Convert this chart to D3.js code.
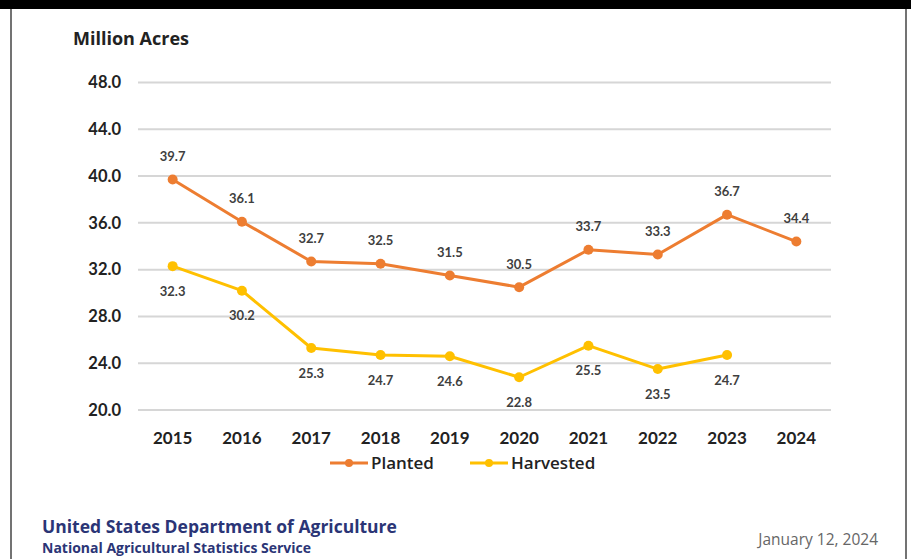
<!DOCTYPE html>
<html lang="en">
<head>
<meta charset="UTF-8">
<title>Million Acres</title>
<script src="https://d3js.org/d3.v7.min.js"></script>
<style>
    body { margin: 0; background: #fff; }
    svg { display: block; font-family: Lato, "Open Sans", sans-serif; }
    .wide { font-family: "Open Sans", sans-serif; }
</style>
</head>
<body>
<svg id="chart" width="911" height="559"></svg>
<script>
    const years = ["2015", "2016", "2017", "2018", "2019", "2020", "2021", "2022", "2023", "2024"];
    const planted = [39.7, 36.1, 32.7, 32.5, 31.5, 30.5, 33.7, 33.3, 36.7, 34.4];
    const harvested = [32.3, 30.2, 25.3, 24.7, 24.6, 22.8, 25.5, 23.5, 24.7, null];
    const yTicks = [20, 24, 28, 32, 36, 40, 44, 48];

    const svg = d3.select("#chart");
    const width = +svg.attr("width");
    const height = +svg.attr("height");

    // frame: black bar on top, thin side borders
    svg.append("rect").attr("x", 0).attr("y", 0).attr("width", width).attr("height", 9).attr("fill", "#000");
    svg.append("line").attr("x1", 11).attr("x2", 11).attr("y1", 9).attr("y2", height)
        .attr("stroke", "#444").attr("stroke-width", 1.5);
    svg.append("line").attr("x1", 906).attr("x2", 906).attr("y1", 9).attr("y2", height)
        .attr("stroke", "#444").attr("stroke-width", 1.5);

    const x = d3.scaleBand().domain(years).range([138, 831]);
    const y = d3.scaleLinear().domain([20, 48]).range([410, 82.5]);
    const cx = d => x(d) + x.bandwidth() / 2;

    // gridlines
    svg.append("g").selectAll("line")
        .data(yTicks)
        .enter().append("line")
        .attr("x1", 138).attr("x2", 831)
        .attr("y1", d => y(d)).attr("y2", d => y(d))
        .attr("stroke", "#d6d6d6").attr("stroke-width", 2);

    // y axis labels
    svg.append("g").selectAll("text")
        .data(yTicks)
        .enter().append("text")
        .attr("x", 121).attr("y", d => y(d))
        .attr("dy", "0.35em")
        .attr("text-anchor", "end")
        .attr("font-size", 16.5).attr("font-weight", "bold").attr("fill", "#222")
        .text(d => d.toFixed(1));

    // x axis labels
    svg.append("g").selectAll("text")
        .data(years)
        .enter().append("text")
        .attr("x", d => cx(d)).attr("y", 438)
        .attr("dy", "0.35em")
        .attr("text-anchor", "middle")
        .attr("font-size", 17).attr("font-weight", "bold").attr("fill", "#222")
        .text(d => d);

    svg.append("text")
        .attr("class", "wide")
        .attr("x", 73).attr("y", 45)
        .attr("font-size", 18).attr("font-weight", "bold").attr("fill", "#222")
        .text("Million Acres");

    const series = [
        { name: "Planted", values: planted, color: "#ED7D31", off: -23 },
        { name: "Harvested", values: harvested, color: "#FFC000", off: 25 }
    ];

    const line = d3.line()
        .defined(d => d.v !== null)
        .x(d => cx(d.year))
        .y(d => y(d.v));

    series.forEach(s => {
        const pts = years.map((yr, i) => ({ year: yr, v: s.values[i] }));
        const valid = pts.filter(d => d.v !== null);
        svg.append("path")
            .datum(pts)
            .attr("d", line)
            .attr("fill", "none")
            .attr("stroke", s.color)
            .attr("stroke-width", 3)
            .attr("stroke-linejoin", "round");
        svg.append("g").selectAll("circle")
            .data(valid)
            .enter().append("circle")
            .attr("cx", d => cx(d.year)).attr("cy", d => y(d.v))
            .attr("r", 5).attr("fill", s.color);
        svg.append("g").selectAll("text")
            .data(valid)
            .enter().append("text")
            .attr("x", d => cx(d.year)).attr("y", d => y(d.v) + s.off)
            .attr("dy", "0.35em")
            .attr("text-anchor", "middle")
            .attr("font-size", 13).attr("font-weight", "bold").attr("fill", "#3f3f3f")
            .text(d => d.v.toFixed(1));
    });

    // legend
    const legend = svg.append("g").attr("transform", "translate(0,463)");
    const legendItems = [
        { name: "Planted", color: "#ED7D31", x: 330 },
        { name: "Harvested", color: "#FFC000", x: 470 }
    ];
    legendItems.forEach(d => {
        legend.append("line")
            .attr("x1", d.x).attr("x2", d.x + 38)
            .attr("y1", 0).attr("y2", 0)
            .attr("stroke", d.color).attr("stroke-width", 3);
        legend.append("circle")
            .attr("cx", d.x + 19).attr("cy", 0).attr("r", 4).attr("fill", d.color);
        legend.append("text")
            .attr("class", "wide")
            .attr("x", d.x + 41).attr("y", 0).attr("dy", "0.35em")
            .attr("font-size", 17).attr("font-weight", 600).attr("fill", "#222")
            .text(d.name);
    });

    // footer
    svg.append("text")
        .attr("class", "wide")
        .attr("x", 42).attr("y", 533)
        .attr("font-size", 17.5).attr("font-weight", "bold").attr("fill", "#2b3576")
        .text("United States Department of Agriculture");
    svg.append("text")
        .attr("class", "wide")
        .attr("x", 42).attr("y", 553)
        .attr("font-size", 14).attr("font-weight", "bold").attr("fill", "#2b3576")
        .text("National Agricultural Statistics Service");
    svg.append("text")
        .attr("class", "wide")
        .attr("x", 878).attr("y", 545)
        .attr("text-anchor", "end")
        .attr("font-size", 15.5).attr("fill", "#666")
        .text("January 12, 2024");
</script>
</body>
</html>
